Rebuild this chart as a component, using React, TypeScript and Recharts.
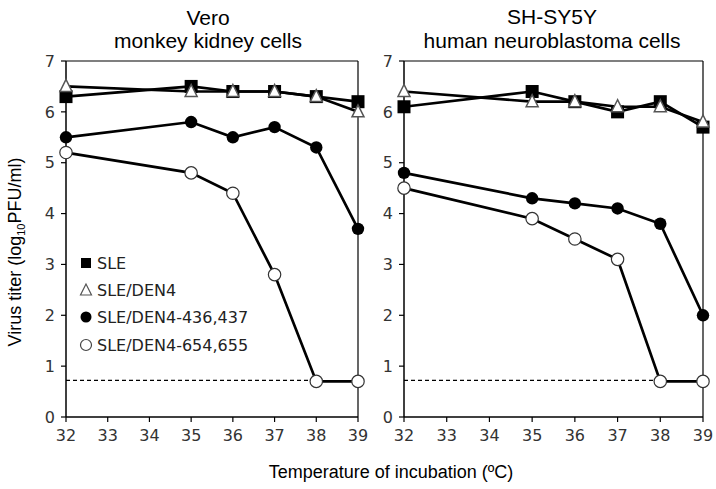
import React from "react";
import { LineChart, Line, XAxis, YAxis, ReferenceLine } from "recharts";

const temps = [32, 35, 36, 37, 38, 39];
const xTicks = [32, 33, 34, 35, 36, 37, 38, 39];
const yTicks = [0, 1, 2, 3, 4, 5, 6, 7];

const veroSLE = [6.3, 6.5, 6.4, 6.4, 6.3, 6.2];
const veroDEN4 = [6.5, 6.4, 6.4, 6.4, 6.3, 6.0];
const vero436 = [5.5, 5.8, 5.5, 5.7, 5.3, 3.7];
const vero654 = [5.2, 4.8, 4.4, 2.8, 0.7, 0.7];

const shSLE = [6.1, 6.4, 6.2, 6.0, 6.2, 5.7];
const shDEN4 = [6.4, 6.2, 6.2, 6.1, 6.1, 5.8];
const sh436 = [4.8, 4.3, 4.2, 4.1, 3.8, 2.0];
const sh654 = [4.5, 3.9, 3.5, 3.1, 0.7, 0.7];

const detectionLimit = 0.72;

const seriesNames = ["SLE", "SLE/DEN4", "SLE/DEN4-436,437", "SLE/DEN4-654,655"];

const build = (a: number[], b: number[], c: number[], d: number[]) =>
  temps.map((t, i) => ({ t, sle: a[i], den4: b[i], m436: c[i], m654: d[i] }));

const veroData = build(veroSLE, veroDEN4, vero436, vero654);
const shData = build(shSLE, shDEN4, sh436, sh654);

const SquareDot = (p: any) => {
  const { cx, cy } = p;
  if (cx == null || cy == null) return null;
  return <rect key={`s${cx}`} x={cx - 6.5} y={cy - 6.5} width={13} height={13} fill="#000" />;
};
const TriDot = (p: any) => {
  const { cx, cy } = p;
  if (cx == null || cy == null) return null;
  return (
    <polygon
      key={`t${cx}`}
      points={`${cx},${cy - 7} ${cx - 6},${cy + 5} ${cx + 6},${cy + 5}`}
      fill="#fff"
      stroke="#555"
      strokeWidth={1.5}
    />
  );
};
const FillDot = (p: any) => {
  const { cx, cy } = p;
  if (cx == null || cy == null) return null;
  return <circle key={`f${cx}`} cx={cx} cy={cy} r={6.2} fill="#000" />;
};
const OpenDot = (p: any) => {
  const { cx, cy } = p;
  if (cx == null || cy == null) return null;
  return <circle key={`o${cx}`} cx={cx} cy={cy} r={6.2} fill="#fff" stroke="#333" strokeWidth={1.2} />;
};

const tickStyle = { fontFamily: "DejaVu Sans", fontSize: 16, fill: "#333" };

const Panel = ({ data, left, width, margin }: any) => (
  <div style={{ position: "absolute", left, top: 0 }}>
    <LineChart width={width} height={489} data={data} margin={margin}>
      <XAxis
        dataKey="t"
        type="number"
        domain={[32, 39]}
        ticks={xTicks}
        interval={0}
        height={30}
        tickSize={5}
        tickMargin={8}
        tick={tickStyle}
        axisLine={{ stroke: "#000", strokeWidth: 1.5 }}
        tickLine={{ stroke: "#000", strokeWidth: 1.2 }}
      />
      <YAxis
        type="number"
        domain={[0, 7]}
        ticks={yTicks}
        interval={0}
        width={40}
        tickSize={5}
        tickMargin={6}
        tick={tickStyle}
        axisLine={{ stroke: "#000", strokeWidth: 1.5 }}
        tickLine={{ stroke: "#000", strokeWidth: 1.2 }}
      />
      <ReferenceLine y={7} stroke="#000" strokeWidth={1.2} />
      <ReferenceLine x={39} stroke="#000" strokeWidth={1.2} />
      <ReferenceLine
        segment={[
          { x: 32, y: detectionLimit },
          { x: 38, y: detectionLimit },
        ]}
        stroke="#000"
        strokeWidth={1.2}
        strokeDasharray="4 3"
      />
      <Line dataKey="sle" name={seriesNames[0]} stroke="#000" strokeWidth={2.7} dot={SquareDot} isAnimationActive={false} />
      <Line dataKey="den4" name={seriesNames[1]} stroke="#000" strokeWidth={2.7} dot={TriDot} isAnimationActive={false} />
      <Line dataKey="m436" name={seriesNames[2]} stroke="#000" strokeWidth={2.7} dot={FillDot} isAnimationActive={false} />
      <Line dataKey="m654" name={seriesNames[3]} stroke="#000" strokeWidth={2.7} dot={OpenDot} isAnimationActive={false} />
    </LineChart>
  </div>
);

const legendRow = (i: number, y: number) => {
  const cx = 86;
  let marker: React.ReactNode = null;
  if (i === 0) marker = <rect x={cx - 5} y={y - 5} width={10} height={10} fill="#000" />;
  if (i === 1)
    marker = (
      <polygon points={`${cx},${y - 6} ${cx - 5.5},${y + 5} ${cx + 5.5},${y + 5}`} fill="#fff" stroke="#555" strokeWidth={1.2} />
    );
  if (i === 2) marker = <circle cx={cx} cy={y} r={5.5} fill="#000" />;
  if (i === 3) marker = <circle cx={cx} cy={y} r={5.5} fill="#fff" stroke="#444" strokeWidth={1.2} />;
  return (
    <g key={i}>
      {marker}
      <text x={97} y={y + 6} fontFamily="DejaVu Sans" fontSize={16} fill="#222">
        {seriesNames[i]}
      </text>
    </g>
  );
};

export default function App() {
  return (
    <div style={{ position: "absolute", left: 0, top: 0, width: 716, height: 489, background: "#fff" }}>
      <Panel data={veroData} left={0} width={380} margin={{ top: 61, right: 22, bottom: 42, left: 26 }} />
      <Panel data={shData} left={360} width={356} margin={{ top: 61, right: 13, bottom: 42, left: 4 }} />
      <svg width={716} height={489} style={{ position: "absolute", left: 0, top: 0, pointerEvents: "none" }}>
        <g fontFamily="Liberation Sans" fontSize={21} fill="#000" textAnchor="middle">
          <text x={208} y={25}>Vero</text>
          <text x={208} y={48}>monkey kidney cells</text>
          <text x={552} y={24}>SH-SY5Y</text>
          <text x={552} y={48}>human neuroblastoma cells</text>
        </g>
        <text x={391} y={478} fontFamily="Liberation Sans" fontSize={18} textAnchor="middle" fill="#000">
          Temperature of incubation (ºC)
        </text>
        <text
          transform="translate(21,252) rotate(-90)"
          fontFamily="Liberation Sans"
          fontSize={18}
          textAnchor="middle"
          fill="#000"
        >
          Virus titer (log
          <tspan fontSize={11} dy={4}>10</tspan>
          <tspan dy={-4}>PFU/ml)</tspan>
        </text>
        {[263, 290, 317, 345].map((y, i) => legendRow(i, y))}
      </svg>
    </div>
  );
}
